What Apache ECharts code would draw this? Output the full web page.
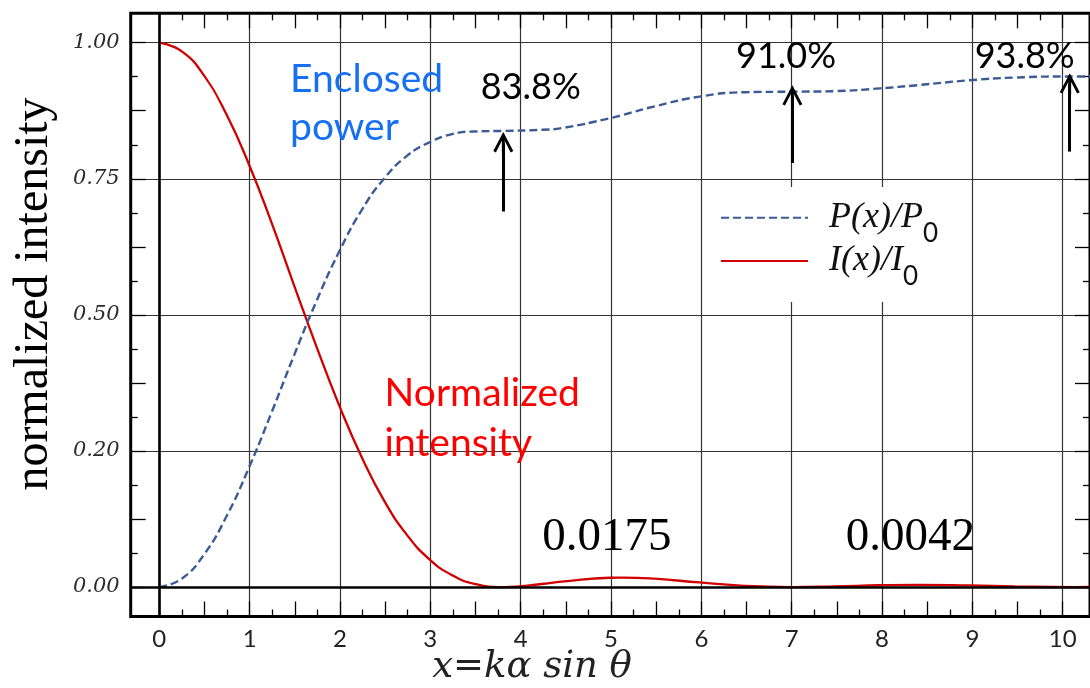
<!DOCTYPE html>
<html lang="en">
<head>
<meta charset="utf-8" />
<title>Airy pattern - intensity and enclosed power</title>
<script src="https://cdn.jsdelivr.net/npm/echarts@6/dist/echarts.min.js"></script>
<style>
  html, body { margin: 0; padding: 0; background: #fff; }
  #chart { width: 1090px; height: 688px; }
</style>
</head>
<body>
<div id="chart"></div>
<script>
  // values, x = k a sin(theta)
  var xVals     = [0, 0.25, 0.5, 0.75, 1, 1.25, 1.5, 1.75, 2, 2.25, 2.5, 2.75, 3, 3.25, 3.5, 3.83, 4.25, 4.5, 5, 5.14, 5.5, 6, 6.5, 7.02, 7.5, 8, 8.42, 9, 9.5, 10.17, 10.4];
  var intensity = [1, 0.984, 0.939, 0.867, 0.775, 0.668, 0.553, 0.440, 0.333, 0.238, 0.158, 0.096, 0.051, 0.022, 0.006, 0, 0.0057, 0.0105, 0.0172, 0.0175, 0.0154, 0.0085, 0.0022, 0, 0.0013, 0.0034, 0.0042, 0.0030, 0.0012, 0, 0.0003];
  var power     = [0, 0.0155, 0.0605, 0.131, 0.221, 0.322, 0.427, 0.527, 0.617, 0.693, 0.751, 0.792, 0.817, 0.832, 0.837, 0.838, 0.840, 0.844, 0.861, 0.867, 0.883, 0.901, 0.909, 0.910, 0.911, 0.916, 0.922, 0.931, 0.936, 0.938, 0.938];

  var xTickLabels = ['0', '1', '2', '3', '4', '5', '6', '7', '8', '9', '10'];
  var yTickLabels = ['0.00', '0.20', '0.50', '0.75', '1.00'];   // the original labels the 0.25 line "0.20"

  // arrows pointing at the enclosed power plateaus
  var arrowX    = [3.82, 7.03, 10.11];
  var arrowFrom = [0.690, 0.779, 0.800];
  var arrowTip  = [0.836, 0.922, 0.944];
  var noteText  = ['83.8%', '91.0%', '93.8%'];
  var noteX     = [4.125, 6.96, 9.61];
  var noteY     = [0.918, 0.974, 0.974];
  // secondary maxima of the intensity
  var peakText  = ['0.0175', '0.0042'];
  var peakX     = [4.97, 8.34];
  var peakY     = [0.090, 0.090];

  var chart = echarts.init(document.getElementById('chart'));

  var chevron = 'path://M0,19 L10,0 L20,19 L17.4,20.4 L10,6 L2.6,20.4 Z M8.6,2 L11.4,2 L11.4,21 L8.6,21 Z';
  var yPx = 544.3;   // pixels per unit of y, used to put the arrow tip on the value

  var arrowLines = arrowX.map(function (x, i) {
    return [{ coord: [x, arrowFrom[i]] }, { coord: [x, arrowTip[i] - 10.5 / yPx] }];
  });
  var notes = noteText.map(function (t, i) {
    return { name: t, coord: [noteX[i], noteY[i]],
      label: { fontFamily: 'Lato', fontSize: 36, color: '#000' } };
  });
  peakText.forEach(function (t, i) {
    notes.push({ name: t, coord: [peakX[i], peakY[i]],
      label: { fontFamily: 'Liberation Serif', fontSize: 47, color: '#000' } });
  });
  notes.push({ name: 'Enclosed\npower', coord: [1.447, 0.889],
    label: { position: 'right', distance: 0, fontFamily: 'Lato', fontSize: 39, lineHeight: 48, color: '#1670f2' } });
  notes.push({ name: 'Normalized\nintensity', coord: [2.497, 0.309],
    label: { position: 'right', distance: 0, fontFamily: 'Lato', fontSize: 39, lineHeight: 50, color: '#ff0000' } });

  var tickStyle = { color: '#000', width: 1.3 };
  var xLabelFmt = function (v) { return v % 1 === 0 ? xTickLabels[v] : ''; };
  var yLabelFmt = function (v) {
    var k = Math.round(v * 4);
    return Math.abs(v * 4 - k) < 1e-6 ? yTickLabels[k] : '';
  };

  var option = {
    animation: false,
    backgroundColor: '#fff',
    grid: [
      // 0: data area, also draws the frame
      { left: 130.7, right: -3, top: 13.3, bottom: 71.5, show: true, borderColor: '#000', borderWidth: 3 },
      // 1: y ticks and horizontal grid lines (0..1)
      { left: 130.7, right: -3, top: 42.7, bottom: 101 },
      // 2: x ticks and vertical grid lines (0..10)
      { left: 159.3, right: 27.3, top: 13.3, bottom: 71.5 }
    ],
    xAxis: [
      { gridIndex: 0, type: 'value', min: -0.317, max: 10.335, show: false },
      { gridIndex: 1, type: 'value', min: 0, max: 1, show: false },
      { gridIndex: 2, type: 'value', position: 'bottom', min: 0, max: 10, interval: 0.5,
        axisLine: { show: false, onZero: false },
        axisTick: { inside: true, length: 15, lineStyle: tickStyle },
        minorTick: { show: true, splitNumber: 2, length: 7, lineStyle: tickStyle },
        splitLine: { show: false },
        axisLabel: { margin: 11, formatter: xLabelFmt, fontFamily: 'Lato', fontSize: 24, color: '#222' } },
      { gridIndex: 2, type: 'value', position: 'top', min: 0, max: 10, interval: 0.5,
        axisLine: { show: false, onZero: false },
        axisTick: { inside: true, length: 15, lineStyle: tickStyle },
        minorTick: { show: true, splitNumber: 2, length: 7, lineStyle: tickStyle },
        splitLine: { show: false }, axisLabel: { show: false } },
      { gridIndex: 2, type: 'value', position: 'bottom', min: 0, max: 10, interval: 1,
        axisLine: { show: false, onZero: false }, axisTick: { show: false }, axisLabel: { show: false },
        splitLine: { show: true, lineStyle: { color: '#333', width: 1.2 } } }
    ],
    yAxis: [
      { gridIndex: 0, type: 'value', min: -0.054, max: 1.054, show: false },
      { gridIndex: 1, type: 'value', position: 'left', min: 0, max: 1, interval: 0.125,
        axisLine: { show: false, onZero: false },
        axisTick: { inside: true, length: 15, lineStyle: tickStyle },
        minorTick: { show: true, splitNumber: 2, length: 7, lineStyle: tickStyle },
        splitLine: { show: false },
        axisLabel: { margin: 11, formatter: yLabelFmt, fontFamily: 'DejaVu Serif', fontStyle: 'italic', fontSize: 21, color: '#2a2a2a' } },
      { gridIndex: 1, type: 'value', position: 'right', min: 0, max: 1, interval: 0.125,
        axisLine: { show: false, onZero: false },
        axisTick: { inside: true, length: 15, lineStyle: tickStyle },
        minorTick: { show: true, splitNumber: 2, length: 7, lineStyle: tickStyle },
        splitLine: { show: false }, axisLabel: { show: false } },
      { gridIndex: 1, type: 'value', position: 'left', min: 0, max: 1, interval: 0.25,
        axisLine: { show: false, onZero: false }, axisTick: { show: false }, axisLabel: { show: false },
        splitLine: { show: true, lineStyle: { color: '#333', width: 1.2 } } },
      { gridIndex: 2, type: 'value', min: 0, max: 1, show: false }
    ],
    legend: {
      orient: 'vertical', left: 703, top: 187,
      data: ['P(x)/P0', 'I(x)/I0'],
      selectedMode: false,
      itemWidth: 87, itemHeight: 14, itemGap: -5.8,
      padding: [10.7, 33, 12, 17],
      backgroundColor: '#fff', borderWidth: 0,
      itemStyle: { opacity: 0 },
      formatter: function (name) {
        return '{a|' + name.slice(0, -1) + '}{b|' + name.slice(-1) + '}';
      },
      textStyle: {
        color: '#000', lineHeight: 40,
        rich: {
          a: { fontFamily: 'Liberation Serif', fontStyle: 'italic', fontSize: 36, lineHeight: 40, padding: [0, 0, 0, 16], color: '#111' },
          b: { fontFamily: 'Lato', fontSize: 26, lineHeight: 31, padding: [16, 0, -16, 0], color: '#111' }
        }
      }
    },
    graphic: [
      { type: 'text', x: 34, y: 294, rotation: Math.PI / 2,
        style: { text: 'normalized intensity', font: '48px "Liberation Serif"', fill: '#000', align: 'center', verticalAlign: 'middle' } },
      { type: 'text', x: 532, y: 667,
        style: { text: 'x=kα sin θ', font: 'italic 37px "DejaVu Serif"', fill: '#222', align: 'center', verticalAlign: 'middle' } }
    ],
    series: [
      { // heavy x = 0 and y = 0 lines, under the curves
        name: 'axes', type: 'line', data: [], z: 1, silent: true,
        markLine: { silent: true, symbol: 'none', label: { show: false },
          lineStyle: { color: '#000', width: 2.6, type: 'solid' },
          data: [{ xAxis: 0 }, { yAxis: 0 }] } },
      {
        name: 'I(x)/I0', type: 'line', smooth: true, symbol: 'none',
        lineStyle: { color: '#d10000', width: 2.3 }, itemStyle: { color: '#d10000' },
        data: xVals.map(function (x, i) { return [x, intensity[i]]; })
      },
      {
        name: 'P(x)/P0', type: 'line', smooth: true, symbol: 'none',
        lineStyle: { color: '#3b5b95', width: 2.4, type: [8, 4] }, itemStyle: { color: '#3b5b95' },
        data: xVals.map(function (x, i) { return [x, power[i]]; }),
        markLine: { silent: true, symbol: ['none', chevron], symbolSize: [20, 21], label: { show: false },
          lineStyle: { color: '#000', width: 3, type: 'solid' }, data: arrowLines }
      },
      {
        name: 'notes', type: 'line', data: [], silent: true, z: 5,
        markPoint: { symbol: 'circle', symbolSize: 1, itemStyle: { color: 'rgba(0,0,0,0)' },
          label: { show: true, position: 'inside', formatter: function (p) { return p.name; } },
          data: notes }
      }
    ]
  };
  chart.setOption(option);
</script>
</body>
</html>
